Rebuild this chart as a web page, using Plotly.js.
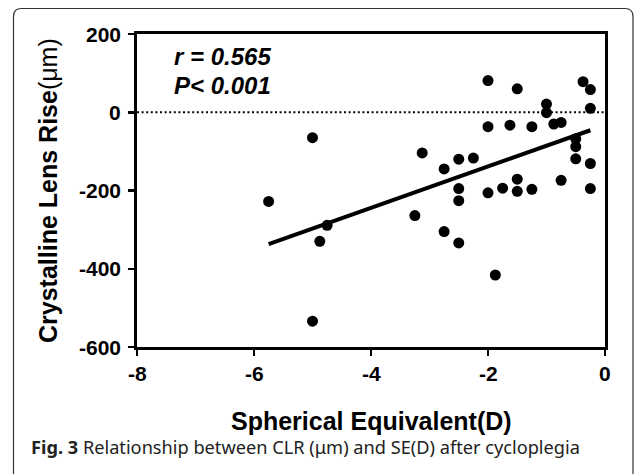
<!DOCTYPE html>
<html>
<head>
<meta charset="utf-8">
<script src="https://cdn.plot.ly/plotly-3.0.1.min.js"></script>
<style>
html,body{margin:0;padding:0;background:#fff;}
#chart{width:634px;height:474px;}
</style>
</head>
<body>
<div id="chart"></div>
<script>
// Spherical equivalent (D) and crystalline lens rise (µm)
const seD = [-5.75, -5.0, -5.0, -4.875, -4.75, -3.25, -3.125, -2.75, -2.75, -2.5, -2.5, -2.5, -2.5, -2.25,
  -2.0, -2.0, -2.0, -1.875, -1.75, -1.625, -1.5, -1.5, -1.5, -1.25, -1.25, -1.0, -1.0, -0.875, -0.75, -0.75,
  -0.5, -0.5, -0.5, -0.375, -0.25, -0.25, -0.25, -0.25];
const clrUm = [-228, -65, -534, -330, -289, -264, -104, -305, -145, -120, -195, -226, -334, -117,
  81, -37, -206, -416, -194, -33, 60, -171, -202, -37, -197, 21, -1, -30, -26, -174,
  -68, -88, -119, 78, 58, 10, -131, -195];
// Regression line end points
const fitX = [-5.75, -0.25];
const fitY = [-337, -46];
// Axis ticks
const xTicks = [-8, -6, -4, -2, 0];
const yTicks = [-600, -400, -200, 0, 200];
const xTitle = "Spherical Equivalent(D)";
const yTitleBold = "Crystalline Lens Rise";
const yTitleUnit = "(μm)";
const statText = ["r = 0.565", "P< 0.001"];
const captionBold = "Fig. 3";
const captionText = "Relationship between CLR (μm) and SE(D) after cycloplegia";

const W = 634, H = 474;
const M = {l: 137, r: 29, t: 34, b: 127};
const pw = W - M.l - M.r, ph = H - M.t - M.b;
const px = p => (p - M.l) / pw;
const py = p => (H - M.b - p) / ph;

const boldFont = "Liberation Sans, Arial, Helvetica, sans-serif";

// rounded frame path (paper coords)
const fx0 = 13.5, fy0 = 8.5, fx1 = 633, fy1 = 480, rad = 8;
const framePath = [
  `M ${px(fx0)},${py(fy1)}`,
  `L ${px(fx0)},${py(fy0 + rad)}`,
  `Q ${px(fx0)},${py(fy0)} ${px(fx0 + rad)},${py(fy0)}`,
  `L ${px(fx1 - rad)},${py(fy0)}`,
  `Q ${px(fx1)},${py(fy0)} ${px(fx1)},${py(fy0 + rad)}`,
  `L ${px(fx1)},${py(fy1)}`
].join(' ');

const traces = [
  {
    x: seD, y: clrUm, type: 'scatter', mode: 'markers',
    marker: {color: '#000', size: 11}, cliponaxis: false, showlegend: false
  },
  {
    x: fitX, y: fitY, type: 'scatter', mode: 'lines',
    line: {color: '#000', width: 4}, showlegend: false
  }
];

const tickFont = {family: boldFont, size: 21, color: '#000'};

// tick labels drawn as bold text at the axis tick positions
const tickAnns = [];
xTicks.forEach(v => tickAnns.push({
  xref: 'x', yref: 'paper', x: v, y: py(373), xanchor: 'center', yanchor: 'middle',
  text: '<b>' + v + '</b>', showarrow: false, font: tickFont
}));
yTicks.forEach(v => tickAnns.push({
  xref: 'paper', yref: 'y', x: px(123), y: v, xanchor: 'right', yanchor: 'middle',
  text: '<b>' + v + '</b>', showarrow: false, font: tickFont
}));

const layout = {
  width: W, height: H,
  margin: M,
  paper_bgcolor: '#fff', plot_bgcolor: '#fff',
  showlegend: false,
  xaxis: {
    range: [-8, 0], tickvals: xTicks, showticklabels: false,
    showgrid: false, zeroline: false,
    showline: true, linecolor: '#000', linewidth: 3, mirror: true,
    ticks: 'outside', ticklen: 6, tickwidth: 2.5, tickcolor: '#000',
    fixedrange: true
  },
  yaxis: {
    range: [-600, 200], tickvals: yTicks, showticklabels: false,
    showgrid: false, zeroline: false,
    showline: true, linecolor: '#000', linewidth: 3, mirror: true,
    ticks: 'outside', ticklen: 6, tickwidth: 2.5, tickcolor: '#000',
    fixedrange: true
  },
  shapes: [
    {type: 'line', xref: 'paper', yref: 'y', x0: 0, x1: 1, y0: 0, y1: 0,
     line: {color: '#000', width: 2, dash: '2px,2.6px'}},
    {type: 'path', xref: 'paper', yref: 'paper', path: framePath,
     line: {color: '#333', width: 1.2}, fillcolor: 'rgba(0,0,0,0)', layer: 'below'}
  ],
  annotations: tickAnns.concat([
    {xref: 'paper', yref: 'paper', x: px(172), y: py(57), xanchor: 'left', yanchor: 'middle',
     text: '<b><i>' + statText[0] + '</i></b>', showarrow: false,
     font: {family: boldFont, size: 24, color: '#000'}},
    {xref: 'paper', yref: 'paper', x: px(172), y: py(85), xanchor: 'left', yanchor: 'middle',
     text: '<b><i>' + statText[1] + '</i></b>', showarrow: false,
     font: {family: boldFont, size: 24, color: '#000'}},
    {xref: 'paper', yref: 'paper', x: px(371), y: py(421), xanchor: 'center', yanchor: 'middle',
     text: '<b>' + xTitle + '</b>', showarrow: false,
     font: {family: boldFont, size: 25, color: '#000'}},
    {xref: 'paper', yref: 'paper', x: px(48), y: py(191), xanchor: 'center', yanchor: 'middle',
     textangle: -90, text: '<b>' + yTitleBold + '</b>' + yTitleUnit, showarrow: false,
     font: {family: boldFont, size: 25, color: '#000'}},
    {xref: 'paper', yref: 'paper', x: px(29), y: py(447), xanchor: 'left', yanchor: 'middle',
     text: '<b>' + captionBold + '</b> ' + captionText, showarrow: false,
     font: {family: 'Noto Sans, Open Sans, sans-serif', size: 18.2, color: '#222'}}
  ])
};

Plotly.newPlot('chart', traces, layout, {displayModeBar: false, staticPlot: true});
</script>
</body>
</html>
